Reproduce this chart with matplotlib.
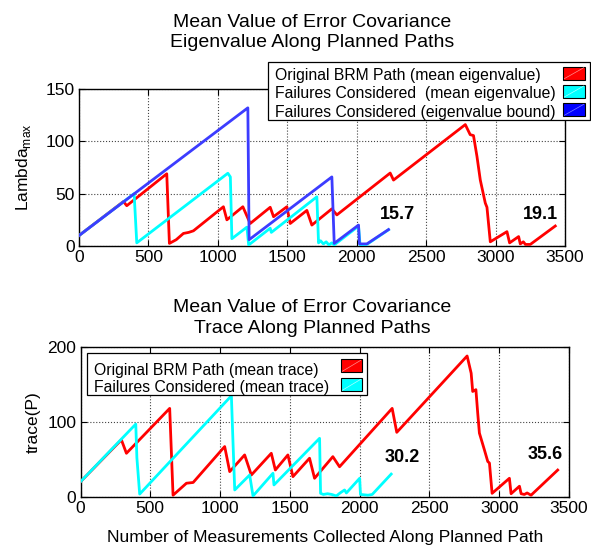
import matplotlib
matplotlib.use("Agg")
import matplotlib.pyplot as plt
from matplotlib.patches import Rectangle

plt.rcParams['font.family'] = ['Liberation Sans', 'DejaVu Sans']

# ---- Top chart data (eigenvalue) ----
red_top_x = [0, 320, 344, 632, 651, 700, 752, 790, 824, 1040, 1065, 1180, 1233, 1377, 1401,
             1497, 1521, 1641, 1677, 1821, 1857, 2241, 2265, 2782, 2817, 2841, 2866, 2890,
             2926, 2938, 2962, 3082, 3101, 3166, 3178, 3200, 3215, 3250, 3430]
red_top_y = [10, 42.5, 38.5, 69, 2.5, 6, 12, 13, 14.5, 37.5, 25, 37.5, 21.5, 37, 28,
             37.5, 21.5, 34, 20, 35.5, 29.7, 69.7, 63, 116, 106.4, 105.5, 85.6, 63,
             41, 37, 4, 13.7, 3, 9, 2, 4, 1.5, 1.5, 19.1]

cyan_top_x = [0, 397, 416, 1072, 1090, 1101, 1209, 1222, 1377, 1385, 1713, 1725, 1740, 1760,
              1780, 1800, 1820, 1838, 2013, 2024, 2073, 2229]
cyan_top_y = [10, 50, 3, 69.5, 66, 7, 18, 1, 17, 13, 47, 3, 5, 2,
              4, 1, 3, 1, 19, 1, 1.5, 15.5]

blue_top_x = [0, 1216, 1225, 1821, 1838, 2013, 2020, 2073, 2229]
blue_top_y = [10, 132, 6, 66, 2.5, 20, 2, 2, 15.7]

# ---- Bottom chart data (trace) ----
red_bot_x = [0, 293, 329, 639, 663, 759, 807, 1033, 1069, 1176, 1224, 1367, 1396, 1486,
             1522, 1641, 1677, 1808, 1856, 2233, 2266, 2770, 2799, 2810, 2833, 2846, 2858,
             2894, 2918, 2930, 2949, 3073, 3085, 3145, 3157, 3180, 3200, 3228, 3419]
red_bot_y = [20, 76, 58, 118, 2, 18, 19, 67, 33.5, 55.8, 29, 58, 35.7, 55.8,
             26.8, 51.4, 24.6, 53.5, 40, 118, 86, 188, 165, 140.6, 143, 111.6, 85,
             62.5, 47, 45, 4.5, 24.6, 4, 14, 4, 3, 5, 2, 35.6]

cyan_bot_x = [0, 396, 404, 424, 1081, 1092, 1105, 1212, 1236, 1379, 1386, 1713, 1720, 1740,
              1770, 1800, 1833, 1860, 1892, 1905, 2000, 2006, 2060, 2090, 2226]
cyan_bot_y = [20, 97, 52, 3.5, 134.8, 76, 9, 29, 1, 31.3, 15.7, 78, 4.5, 3,
              4, 3, 1, 5, 9, 5, 24.6, 3, 2, 3, 30.2]

top_labels = ['Original BRM Path (mean eigenvalue)',
              'Failures Considered  (mean eigenvalue)',
              'Failures Considered (eigenvalue bound)']
bot_labels = ['Original BRM Path (mean trace)', 'Failures Considered (mean trace)']

W, H = 591, 548
fig = plt.figure(figsize=(W / 100, H / 100), dpi=100)

ax1 = fig.add_axes([79 / W, 1 - 246 / H, (565 - 79) / W, 157 / H])
ax2 = fig.add_axes([80.5 / W, 1 - 496.7 / H, (569 - 80.5) / W, 149.7 / H])

RED = '#ff0000'
CYAN = '#00ffff'
BLUE = '#3c3cff'
LW = 2.0

ax1.plot(red_top_x, red_top_y, color=RED, lw=LW, zorder=3)
ax1.plot(cyan_top_x, cyan_top_y, color=CYAN, lw=LW, zorder=4)
ax1.plot(blue_top_x, blue_top_y, color=BLUE, lw=LW, zorder=5)

ax2.plot(red_bot_x, red_bot_y, color=RED, lw=LW, zorder=3)
ax2.plot(cyan_bot_x, cyan_bot_y, color=CYAN, lw=LW, zorder=4)

for ax, ymax, yt in [(ax1, 150, [0, 50, 100, 150]), (ax2, 200, [0, 100, 200])]:
    ax.set_xlim(0, 3500)
    ax.set_ylim(0, ymax)
    ax.set_xticks([0, 500, 1000, 1500, 2000, 2500, 3000, 3500])
    ax.set_yticks(yt)
    ax.grid(True, linestyle=':', color='#444444', linewidth=0.8)
    ax.tick_params(direction='in', length=4, width=0.8, labelsize=12.5, top=True, right=True, pad=3)
    for s in ax.spines.values():
        s.set_linewidth(1.0)

ax1.set_ylabel(r'Lambda$_{\mathregular{max}}$', fontsize=12.5, labelpad=9)
ax2.set_ylabel('trace(P)', fontsize=12.5, labelpad=5)
ax2.set_xlabel('Number of Measurements Collected Along Planned Path', fontsize=12.5, labelpad=10.5)

fig.text(312 / W, 1 - 32.5 / H, 'Mean Value of Error Covariance\nEigenvalue Along Planned Paths',
         ha='center', va='center', fontsize=14, linespacing=1.3)
fig.text(312 / W, 1 - 318 / H, 'Mean Value of Error Covariance\nTrace Along Planned Paths',
         ha='center', va='center', fontsize=14, linespacing=1.3)

ax1.text(2167, 29.7, '15.7', fontsize=13, fontweight='bold', ha='left', va='center')
ax1.text(3197, 29.7, '19.1', fontsize=13, fontweight='bold', ha='left', va='center')
ax2.text(2178, 51.8, '30.2', fontsize=13, fontweight='bold', ha='left', va='center')
ax2.text(3202, 55.8, '35.6', fontsize=13, fontweight='bold', ha='left', va='center')

# ---- legends (MATLAB style: text left, colour swatch right), drawn in pixel space ----
ov = fig.add_axes([0, 0, 1, 1], zorder=10)
ov.set_xlim(0, W)
ov.set_ylim(H, 0)
ov.axis('off')


def legend_box(x0, y0, x1, y1, text_x, baselines, labels, sw_x0, sw_x1, sw_tops, sw_h, colors, diag):
    ov.add_patch(Rectangle((x0, y0), x1 - x0, y1 - y0, facecolor='white', edgecolor='black', lw=0.9))
    for b, lab in zip(baselines, labels):
        ov.text(text_x, b, lab, fontsize=11.3, ha='left', va='baseline')
    for t, c, d in zip(sw_tops, colors, diag):
        ov.add_patch(Rectangle((sw_x0, t), sw_x1 - sw_x0, sw_h, facecolor=c, edgecolor='black', lw=0.8))
        ov.plot([sw_x0 + 1, sw_x1 - 1], [t + sw_h - 1, t + 1], color=d, lw=0.5)


legend_box(268.3, 61.7, 590.3, 120.3, 275, [80, 98.3, 116.5], top_labels,
           563.3, 584.7, [66.7, 85.0, 103.3], 13, [RED, CYAN, '#0000ff'],
           ['#ff9090', '#b0ffff', '#8080ff'])
legend_box(86.7, 353.3, 367.3, 395, 94, [375, 392.3], bot_labels,
           341.3, 361.7, [359.3, 378.3], 13, [RED, CYAN],
           ['#ff9090', '#b0ffff'])

fig.savefig('out.png', dpi=100)
